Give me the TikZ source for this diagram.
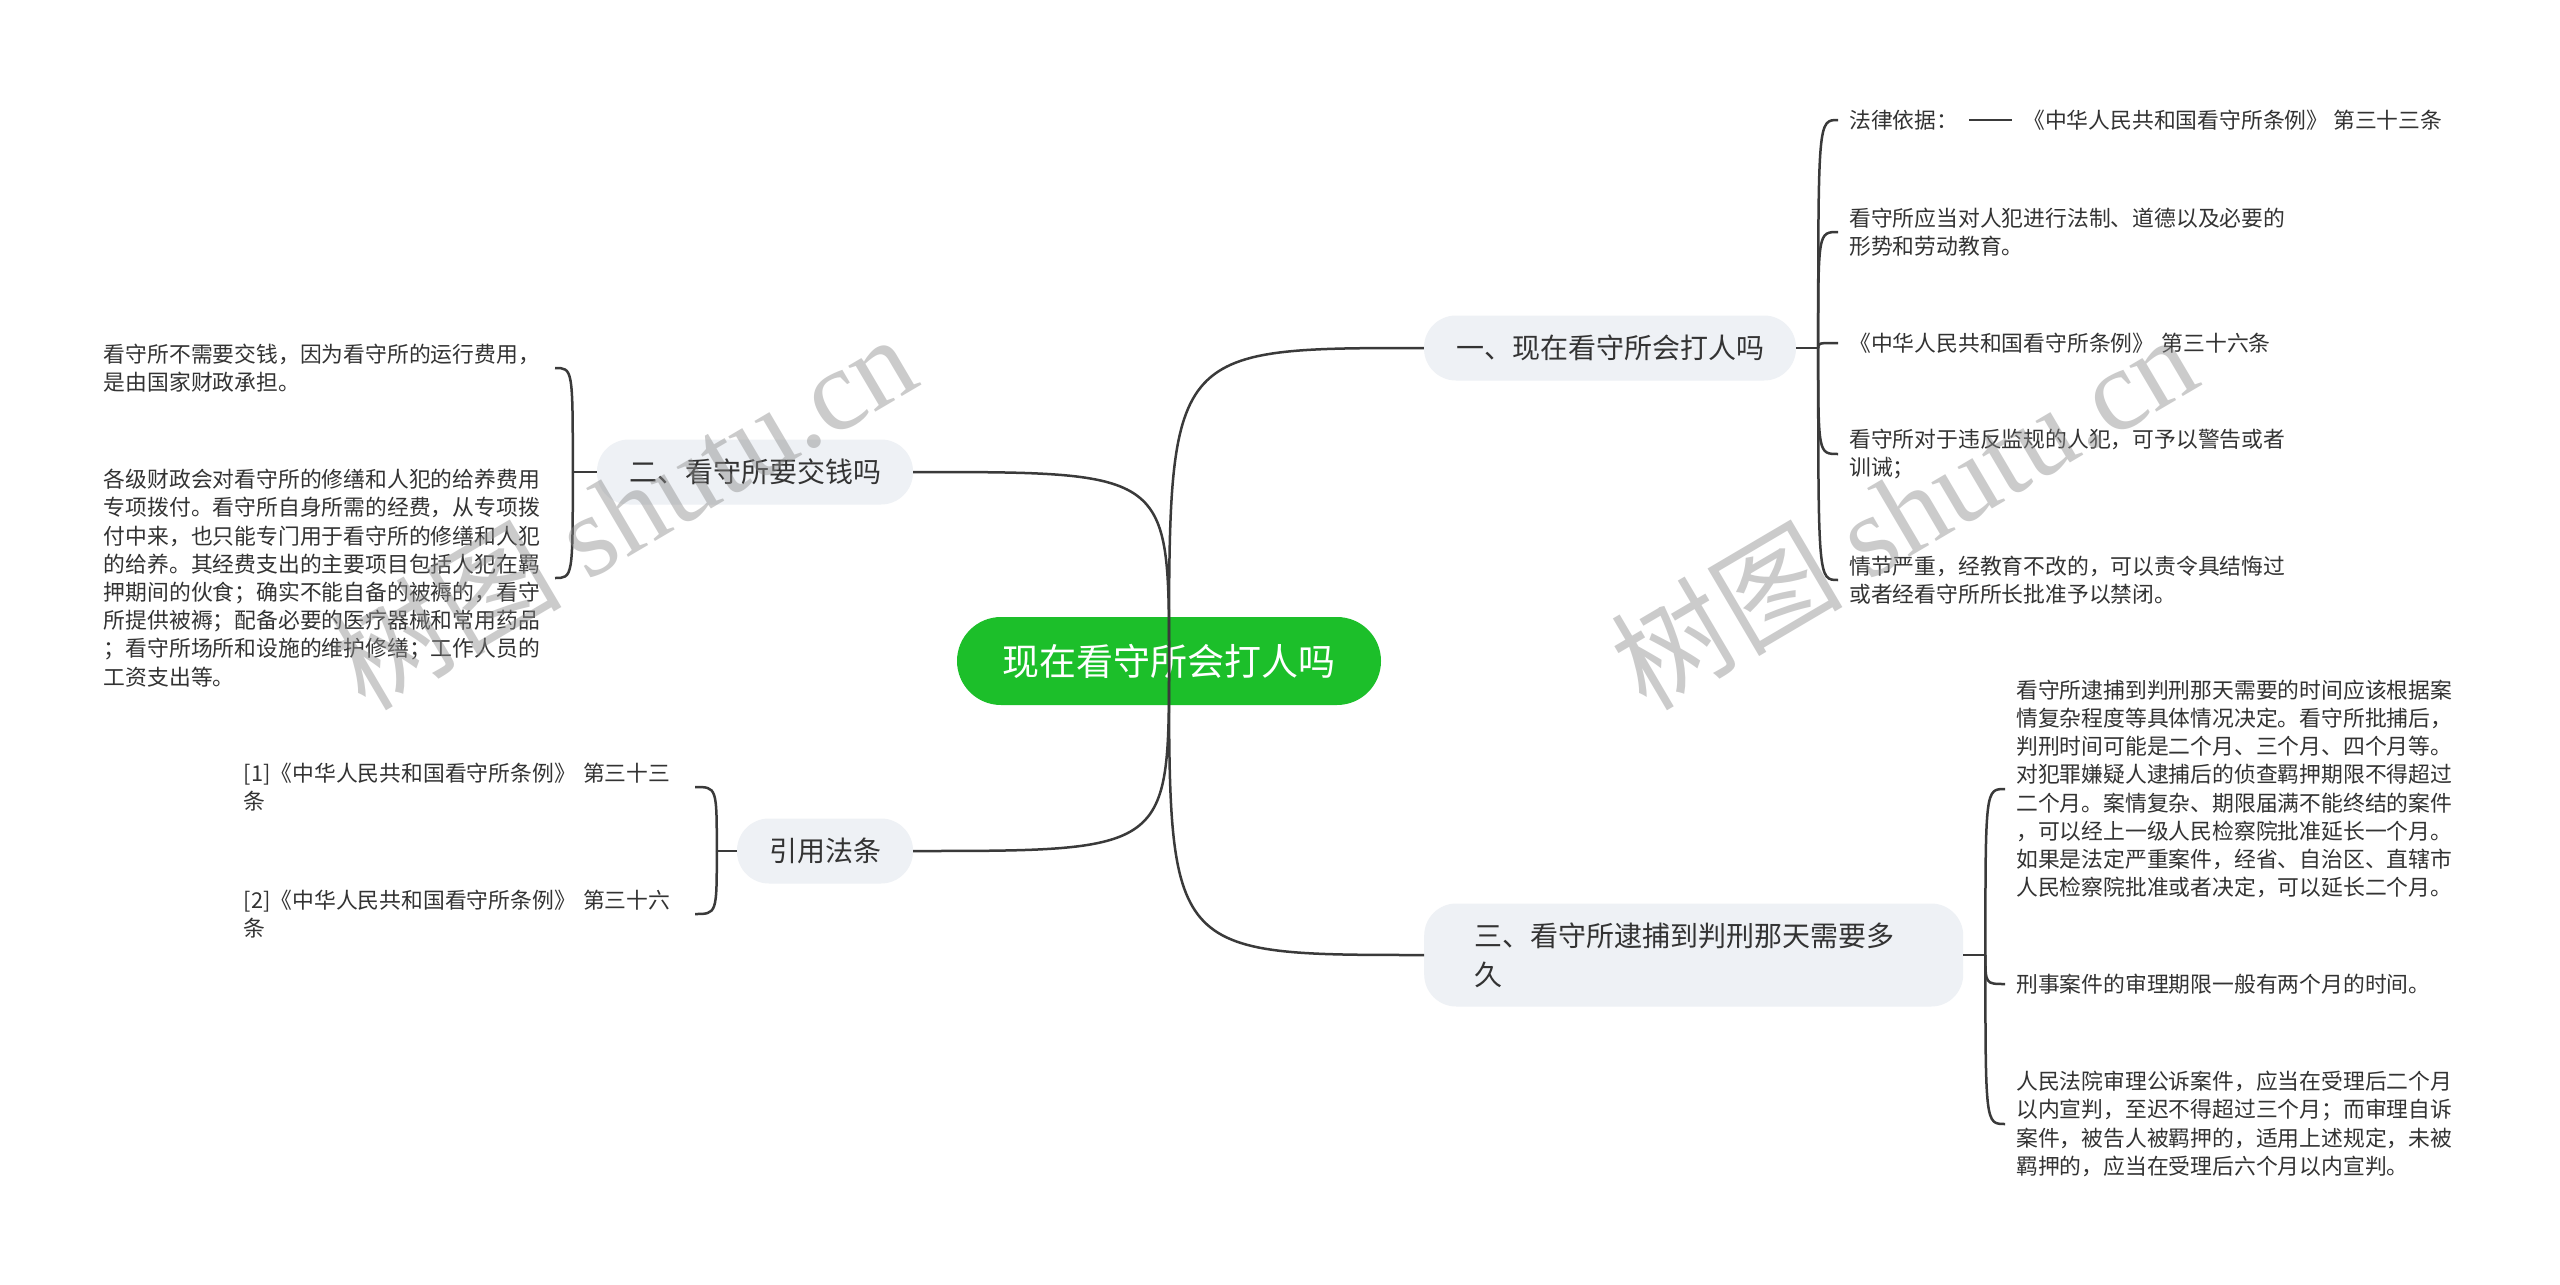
\documentclass[tikz,border=0pt]{standalone}
\usepackage{fontspec}
\newfontfamily\cjk{Noto Sans CJK SC}
\newfontfamily\wmserif{Liberation Serif}
\usetikzlibrary{calc}

\begin{document}
\begin{tikzpicture}[x=1pt, y=-1pt,
    rootnode/.style={fill=rootColour, text=white, rounded corners=44pt, minimum width=424pt, minimum height=88pt, inner sep=0pt, font=\cjk\fontsize{37}{44}\selectfont},
    topicnode/.style={fill=topicColour, text=textColour, rounded corners=32pt, minimum height=65pt, inner xsep=32pt, font=\cjk\fontsize{28}{39}\selectfont},
    leafbase/.style={text=textColour, align=left, inner xsep=11pt, inner ysep=2pt, font=\cjk\fontsize{21.8}{28.2}\selectfont},
    leafnode/.style={leafbase, text width=440pt},
    link/.style={draw=lineColour, line width=2.5pt},
    branchcurve/.style={to path={.. controls (\tikztostart |- \tikztotarget) and (\tikztostart |- \tikztotarget) .. (\tikztotarget)}},
    watermark/.style={text=black!45, text opacity=0.45, rotate=30.5, inner sep=0pt}]

    \definecolor{rootColour}{HTML}{1CBF2A}
    \definecolor{topicColour}{HTML}{EEF1F5}
    \definecolor{textColour}{HTML}{333333}
    \definecolor{lineColour}{HTML}{3A3A3A}

    % Fix the page size
    \fill[white] (0,0) rectangle (2560,1285);
    \useasboundingbox (0,0) rectangle (2560,1285);

    % Draw the root and the topics
    \node[rootnode] (root) at (1169,661) {现在看守所会打人吗};
    \node[topicnode] (t1) at (1610,348) {一、现在看守所会打人吗};
    \node[topicnode] (t2) at (755,472) {二、看守所要交钱吗};
    \node[topicnode] (t3) at (825,851) {引用法条};
    \node[topicnode, anchor=west, align=left, text width=439pt, inner xsep=50pt, inner ysep=19pt] (t4) at (1424,955) {三、看守所逮捕到判刑那天需要多\\久};

    % Define the spine points of the brackets
    \coordinate (s1) at ($(t1.east)+(22,0)$);
    \coordinate (s2) at ($(t2.west)+(-24,0)$);
    \coordinate (s3) at ($(t3.west)+(-20,0)$);
    \coordinate (s4) at ($(t4.east)+(22,0)$);

    % Leaves of topic 1
    \node[leafbase, anchor=west] (c11) at (1838,120) {法律依据：};
    \node[leafbase, anchor=west] (c11a) at (2012,120) {《中华人民共和国看守所条例》 第三十三条};
    \node[leafnode, anchor=west] (c12) at (1838,232) {看守所应当对人犯进行法制、道德以及必要的\\形势和劳动教育。};
    \node[leafnode, anchor=west] (c13) at (1838,343) {《中华人民共和国看守所条例》 第三十六条};
    \node[leafnode, anchor=west] (c14) at (1838,454) {看守所对于违反监规的人犯，可予以警告或者\\训诫；};
    \node[leafnode, anchor=west] (c15) at (1838,580) {情节严重，经教育不改的，可以责令具结悔过\\或者经看守所所长批准予以禁闭。};

    % Leaves of topic 2
    \node[leafnode, anchor=east] (c21) at (555,368) {看守所不需要交钱，因为看守所的运行费用，\\是由国家财政承担。};
    \node[leafnode, anchor=east] (c22) at (555,578) {各级财政会对看守所的修缮和人犯的给养费用\\专项拨付。看守所自身所需的经费，从专项拨\\付中来，也只能专门用于看守所的修缮和人犯\\的给养。其经费支出的主要项目包括人犯在羁\\押期间的伙食；确实不能自备的被褥的，看守\\所提供被褥；配备必要的医疗器械和常用药品\\；看守所场所和设施的维护修缮；工作人员的\\工资支出等。};

    % Leaves of topic 3
    \node[leafnode, anchor=east] (c31) at (695,787) {[1]《中华人民共和国看守所条例》 第三十三\\条};
    \node[leafnode, anchor=east] (c32) at (695,914) {[2]《中华人民共和国看守所条例》 第三十六\\条};

    % Leaves of topic 4
    \node[leafnode, anchor=west] (c41) at (2005,789) {看守所逮捕到判刑那天需要的时间应该根据案\\情复杂程度等具体情况决定。看守所批捕后，\\判刑时间可能是二个月、三个月、四个月等。\\对犯罪嫌疑人逮捕后的侦查羁押期限不得超过\\二个月。案情复杂、期限届满不能终结的案件\\，可以经上一级人民检察院批准延长一个月。\\如果是法定严重案件，经省、自治区、直辖市\\人民检察院批准或者决定，可以延长二个月。};
    \node[leafnode, anchor=west] (c42) at (2005,984) {刑事案件的审理期限一般有两个月的时间。};
    \node[leafnode, anchor=west] (c43) at (2005,1124) {人民法院审理公诉案件，应当在受理后二个月\\以内宣判，至迟不得超过三个月；而审理自诉\\案件，被告人被羁押的，适用上述规定，未被\\羁押的，应当在受理后六个月以内宣判。};

    % Draw the curves from the root
    \foreach \t in {t1,t4}
        \draw[link] (root.center) to[branchcurve] (\t.west);
    \foreach \t in {t2,t3}
        \draw[link] (root.center) to[branchcurve] (\t.east);

    % Draw the brackets
    \draw[link] (t1.east) -- (s1);
    \foreach \c in {c11,c12,c13,c14,c15}
        \draw[link] (s1) to[branchcurve] (\c.west);
    \draw[link] (c11.east) -- (c11a.west);

    \draw[link] (t2.west) -- (s2);
    \foreach \c in {c21,c22}
        \draw[link] (s2) to[branchcurve] (\c.east);

    \draw[link] (t3.west) -- (s3);
    \foreach \c in {c31,c32}
        \draw[link] (s3) to[branchcurve] (\c.east);

    \draw[link] (t4.east) -- (s4);
    \foreach \c in {c41,c42,c43}
        \draw[link] (s4) to[branchcurve] (\c.west);

    % Draw the watermarks
    \node[watermark] (wm1) at (622,510) {\cjk\fontsize{116}{116}\selectfont 树图 \wmserif shutu.cn};
    \node[watermark] (wm2) at (1903,510) {\cjk\fontsize{116}{116}\selectfont 树图 \wmserif shutu.cn};

\end{tikzpicture}
\end{document}
